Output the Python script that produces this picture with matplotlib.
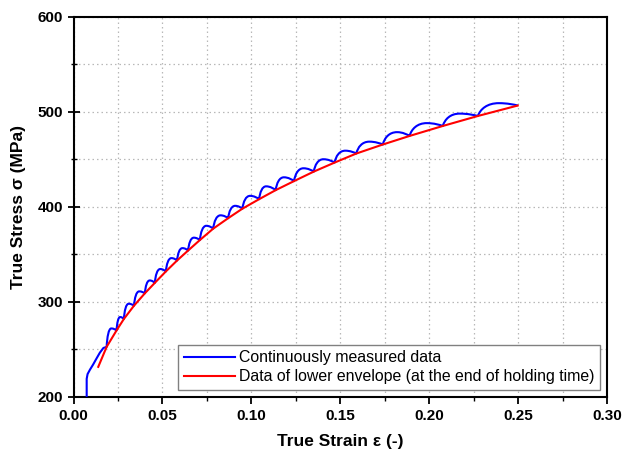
import matplotlib
matplotlib.use("Agg")
import matplotlib.pyplot as plt
from matplotlib.path import Path
from matplotlib.patches import PathPatch
from matplotlib.lines import Line2D
from matplotlib.ticker import MultipleLocator

plt.rcParams['font.family'] = ['Liberation Sans', 'DejaVu Sans']

# lower envelope (end of each holding time)
env_strain = [0.0139, 0.0186, 0.0242, 0.0283, 0.0340, 0.0401, 0.0457, 0.0519,
              0.0582, 0.0644, 0.0710, 0.0785, 0.0869, 0.0949, 0.1043, 0.1136,
              0.1239, 0.1350, 0.1467, 0.1589, 0.1738, 0.1888, 0.2075, 0.2272,
              0.2496]
env_stress = [231.6, 252.6, 270.0, 282.0, 296.0, 309.0, 320.0, 332.0,
              343.5, 354.0, 365.0, 377.0, 388.0, 398.0, 408.0, 417.5,
              427.0, 437.0, 446.5, 456.0, 465.5, 474.5, 485.0, 495.5,
              506.5]

# start of the continuous curve (before the first hold)
start_strain = [0.0074, 0.0074, 0.0079, 0.0092, 0.0110, 0.0128, 0.0148, 0.0168, 0.0186]
start_stress = [200.0, 219.0, 224.0, 228.5, 234.0, 240.0, 246.5, 251.5, 252.6]

# top of each hump of the continuous curve (between two envelope points)
peak_strain = [0.0212, 0.0262, 0.0310, 0.0369, 0.0428, 0.0487, 0.0550, 0.0612,
               0.0676, 0.0746, 0.0826, 0.0908, 0.0992, 0.1082, 0.1182, 0.1292,
               0.1404, 0.1527, 0.1662, 0.1818, 0.1985, 0.2170, 0.2390]
peak_stress = [272.0, 284.0, 298.0, 311.0, 322.5, 334.5, 346.0, 356.5,
               367.5, 380.0, 391.0, 401.0, 411.5, 421.5, 431.0, 440.5,
               450.0, 459.0, 468.5, 478.5, 488.0, 498.0, 509.0]

fig = plt.figure(figsize=(6.23, 4.5), dpi=100)
ax = fig.add_axes([0.118, 0.118, 0.857, 0.845])

# continuous curve: start segment + one rounded hump per hold
verts = list(zip(start_strain, start_stress))
codes = [Path.MOVETO] + [Path.LINETO] * (len(verts) - 1)
for i in range(len(peak_strain)):
    x0, y0 = env_strain[i + 1], env_stress[i + 1]
    x1, y1 = env_strain[i + 2], env_stress[i + 2]
    xp, yp = peak_strain[i], peak_stress[i]
    verts += [(x0 + 0.12 * (xp - x0), y0 + 0.55 * (yp - y0)), (x0 + 0.45 * (xp - x0), yp), (xp, yp)]
    verts += [(xp + 0.45 * (x1 - xp), yp), (x1 - 0.2 * (x1 - xp), y1 + 0.4 * (yp - y1)), (x1, y1)]
    codes += [Path.CURVE4] * 6
ax.add_patch(PathPatch(Path(verts, codes), fill=False, edgecolor='#0000ff',
                       lw=1.5, joinstyle='round', zorder=3))

ax.plot(env_strain, env_stress, color='#ff0000', lw=1.5, zorder=4)

ax.set_xlim(0, 0.30)
ax.set_ylim(200, 600)
ax.xaxis.set_major_locator(MultipleLocator(0.05))
ax.xaxis.set_minor_locator(MultipleLocator(0.025))
ax.yaxis.set_major_locator(MultipleLocator(100))
ax.yaxis.set_minor_locator(MultipleLocator(50))
ax.set_xticklabels([f'{v:.2f}' for v in ax.get_xticks()])
ax.grid(True, which='both', color='#b8b8b8', ls=(0, (1.2, 2.4)), lw=0.9)
ax.set_axisbelow(True)
ax.tick_params(which='major', direction='out', length=5, width=1.3, labelsize=11)
ax.tick_params(which='minor', direction='out', length=3, width=1.0)
ax.tick_params(axis='y', which='major', direction='inout', length=8)
ax.tick_params(axis='y', which='minor', direction='inout', length=5)
for lab in ax.get_xticklabels() + ax.get_yticklabels():
    lab.set_fontweight('bold')
for s in ax.spines.values():
    s.set_linewidth(1.5)

ax.set_xlabel('True Strain ε (-)', fontsize=12.5, fontweight='bold', labelpad=8)
ax.set_ylabel('True Stress σ (MPa)', fontsize=12.5, fontweight='bold', labelpad=8)

handles = [Line2D([], [], color='#0000ff', lw=1.5), Line2D([], [], color='#ff0000', lw=1.5)]
leg = ax.legend(handles, ['Continuously measured data',
                          'Data of lower envelope (at the end of holding time)'],
                loc='lower right', fontsize=11.4, fancybox=False, framealpha=1,
                edgecolor='#808080', handlelength=3.2, handletextpad=0.3,
                borderaxespad=0.45, borderpad=0.35, labelspacing=0.25)
leg.get_frame().set_linewidth(1.0)

fig.savefig('out.png', dpi=100)
